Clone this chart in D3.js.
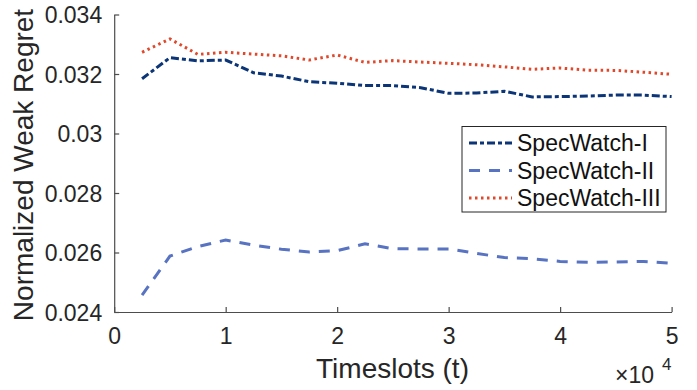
<!DOCTYPE html>
<html><head><meta charset="utf-8">
<script src="https://cdn.jsdelivr.net/npm/d3@7"></script>
<style>body{margin:0;background:#fff}svg{display:block}text{font-family:"Liberation Sans",Arial,sans-serif}</style>
</head><body><svg id="c" width="697" height="390"></svg>
<script>
const timeslots = [2500,5000,7500,10000,12500,15000,17500,20000,22500,25000,27500,30000,32500,35000,37500,40000,42500,45000,47500,50000];
const specWatchI = [0.03184,0.03255,0.03244,0.03247,0.03204,0.03193,0.03174,0.03169,0.03161,0.03161,0.03154,0.03135,0.03136,0.03142,0.03123,0.03124,0.03126,0.03129,0.03129,0.03124];
const specWatchII = [0.02457,0.02588,0.02620,0.02642,0.02625,0.02611,0.02602,0.02606,0.02629,0.02613,0.02612,0.02612,0.02597,0.02583,0.02579,0.02570,0.02567,0.02568,0.02570,0.02564];
const specWatchIII = [0.03273,0.03318,0.03266,0.03273,0.03267,0.03261,0.03247,0.03264,0.03239,0.03245,0.03240,0.03236,0.03231,0.03224,0.03216,0.03220,0.03213,0.03212,0.03206,0.03199];
const seriesNames = ["SpecWatch-I","SpecWatch-II","SpecWatch-III"];
const xTicks = [0,10000,20000,30000,40000,50000];
const xTickLabels = ["0","1","2","3","4","5"];
const yTicks = [0.024,0.026,0.028,0.03,0.032,0.034];
const yTickLabels = ["0.024","0.026","0.028","0.03","0.032","0.034"];

const FONT = "'Liberation Sans',Arial,sans-serif";
const svg = d3.select("#c");
const L = 114.2, R = 671.6, T = 14.5, B = 312;
const x = d3.scaleLinear().domain([0,50000]).range([L,R]);
const y = d3.scaleLinear().domain([0.024,0.034]).range([B,T]);
const axisColor = "#4d4d4d";

// axes
const gx = svg.append("g").attr("transform",`translate(0,${B})`)
  .call(d3.axisBottom(x).tickValues(xTicks).tickFormat((d,i)=>xTickLabels[i]).tickSizeInner(-5).tickSizeOuter(0));
const gy = svg.append("g").attr("transform",`translate(${L},0)`)
  .call(d3.axisLeft(y).tickValues(yTicks).tickFormat((d,i)=>yTickLabels[i]).tickSizeInner(-5).tickSizeOuter(0));
[gx,gy].forEach(g=>{
  g.attr("font-size",23).attr("font-family",FONT);
  g.select(".domain").attr("stroke",axisColor).attr("stroke-width",1.2);
  g.selectAll(".tick line").attr("stroke",axisColor).attr("stroke-width",1.2);
  g.selectAll(".tick text").attr("fill","#262626").attr("font-size",23).style("font-size","23px").style("font-family",FONT);
});
gx.selectAll(".tick text").attr("y",32).attr("dy",0);
gy.selectAll(".tick text").attr("x",-12).attr("dy","0.36em");

// lines
const styles = [
  {data:specWatchI, color:"#0b3577", dash:"8,3,4,3"},
  {data:specWatchII, color:"#5773c2", dash:"11,9"},
  {data:specWatchIII, color:"#e0482b", dash:"2.5,3.5"}
];
const line = d3.line().x((d,i)=>x(timeslots[i])).y(d=>y(d));
styles.forEach(s=>{
  svg.append("path").datum(s.data).attr("d",line).attr("fill","none")
    .attr("stroke",s.color).attr("stroke-width",3).attr("stroke-dasharray",s.dash);
});

// labels
svg.append("text").attr("x",392.5).attr("y",378).attr("text-anchor","middle")
  .attr("fill","#262626").attr("font-size",28).style("font-size","28px").text("Timeslots (t)");
svg.append("text").attr("transform",`translate(33,165) rotate(-90)`).attr("text-anchor","middle")
  .attr("fill","#262626").attr("font-size",28).style("font-size","28px").text("Normalized Weak Regret");
svg.append("text").attr("x",654).attr("y",383).attr("text-anchor","end").attr("fill","#262626")
  .attr("font-size",23).style("font-size","23px").text("\u00d710");
svg.append("text").attr("x",662).attr("y",370).attr("text-anchor","start").attr("fill","#262626")
  .attr("font-size",17).style("font-size","17px").text("4");

// legend
const lg = svg.append("g");
lg.append("rect").attr("x",462).attr("y",126.5).attr("width",204).attr("height",85.5)
  .attr("fill","#fff").attr("stroke","#262626").attr("stroke-width",1);
const rowsY = [143,170.5,198];
styles.forEach((s,i)=>{
  lg.append("line").attr("x1",469).attr("x2",512).attr("y1",rowsY[i]).attr("y2",rowsY[i])
    .attr("stroke",s.color).attr("stroke-width",3).attr("stroke-dasharray",s.dash);
  lg.append("text").attr("x",517).attr("y",rowsY[i]).attr("dy","0.36em").attr("fill","#111")
    .attr("font-size",23).style("font-size","23px").text(seriesNames[i]);
});
</script></body></html>
